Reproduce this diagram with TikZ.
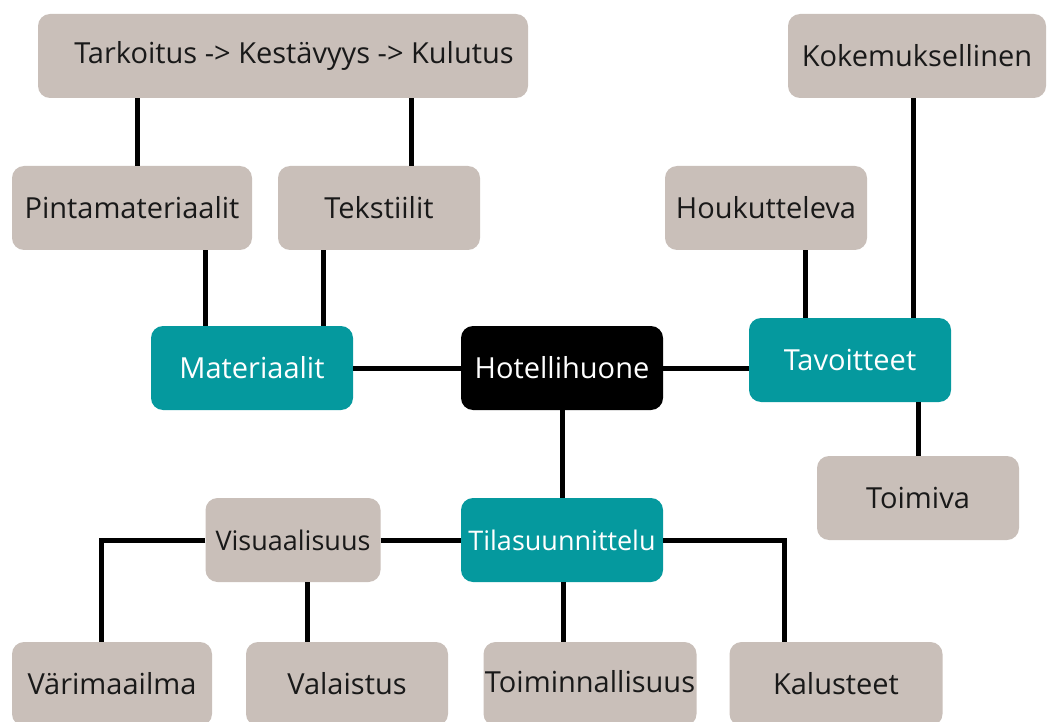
\documentclass[tikz,border=0pt]{standalone}
\usepackage{fontspec}
\setmainfont{Open Sans}
\usetikzlibrary{positioning,calc}
\definecolor{beige}{HTML}{C9BFB9}
\definecolor{petrol}{HTML}{05999E}

\begin{document}
\begin{tikzpicture}[
  x=1pt, y=-1pt,
  box/.style={rectangle, rounded corners=12pt, minimum width=202pt, minimum height=84pt, inner xsep=1pt, align=center, fill=beige, text=black!90, font=\fontsize{29}{34}\selectfont},
  smallbox/.style={font=\fontsize{27}{32}\selectfont},
  mainbox/.style={box, fill=petrol, text=white},
  rootbox/.style={box, fill=black, text=white},
  link/.style={line width=5pt, black}
]
\useasboundingbox (0,0) rectangle (1047,722);

% Top row
\node[box, minimum width=490pt] (tark) at (283,56) {\hspace*{22pt}Tarkoitus -> Kestävyys -> Kulutus};
\node[box, minimum width=258pt] (koke) at (917,56) {Kokemuksellinen};

% Second row
\node[box, minimum width=240pt] (pinta) at (132,208) {Pintamateriaalit};
\node[box] (teks) at (379,208) {Tekstiilit};
\node[box] (houk) at (766,208) {Houkutteleva};

% Middle
\node[mainbox] (mat) at (252,368) {Materiaalit};
\node[rootbox] (hotel) at (562,368) {Hotellihuone};
\node[mainbox] (tav) at (850,360) {Tavoitteet};
\node[box] (toimiva) at (918,498) {Toimiva};

% Lower
\node[box, smallbox, minimum width=175pt] (visu) at (293,540) {Visuaalisuus};
\node[mainbox, smallbox] (tila) at (562,540) {Tilasuunnittelu};

% Bottom row
\node[box, minimum width=200pt] (vari) at (112,684) {Värimaailma};
\node[box] (vala) at (347,684) {Valaistus};
\node[box, minimum width=213pt] (toimin) at (590,684) {\raisebox{6pt}{Toiminnallisuus}};
\node[box, minimum width=213pt] (kal) at (836,684) {Kalusteet};

% Links
\draw[link] (tark.south -| 137,0) -- (pinta.north -| 137,0);
\draw[link] (tark.south -| 411,0) -- (teks.north -| 411,0);
\draw[link] (pinta.south -| 205,0) -- (mat.north -| 205,0);
\draw[link] (teks.south -| 323,0) -- (mat.north -| 323,0);
\draw[link] (mat) -- (hotel);
\draw[link] (hotel.east) -- (tav.west |- hotel.east);
\draw[link] (houk.south -| 805,0) -- (tav.north -| 805,0);
\draw[link] (koke.south -| 913,0) -- (tav.north -| 913,0);
\draw[link] (tav.south -| 918,0) -- (toimiva.north);
\draw[link] (hotel) -- (tila);
\draw[link] (visu) -- (tila);
\draw[link] (visu.west) -| (vari.north -| 101,0);
\draw[link] (visu.south -| 307,0) -- (vala.north -| 307,0);
\draw[link] (tila.south -| 563,0) -- (toimin.north -| 563,0);
\draw[link] (tila.east) -| (kal.north -| 784,0);

\end{tikzpicture}
\end{document}
